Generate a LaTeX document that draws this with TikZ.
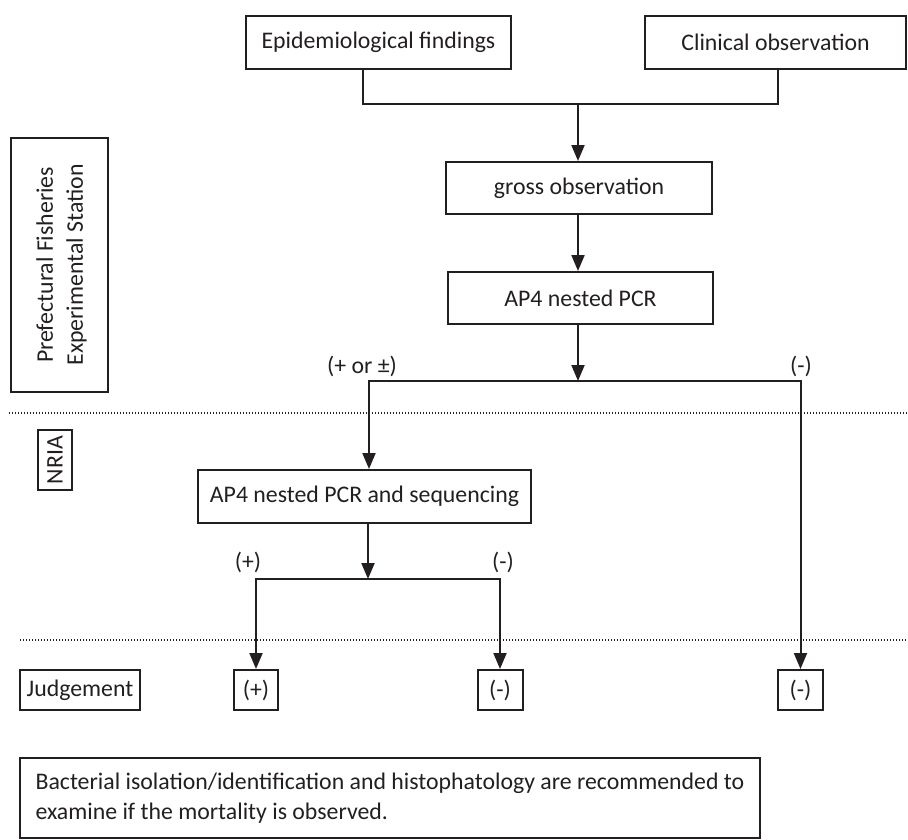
\documentclass[tikz,border=0pt]{standalone}
\usepackage{fontspec}
\setmainfont{Carlito}
\usetikzlibrary{arrows.meta}
\definecolor{ink}{RGB}{35,31,32}
\tikzset{
    box/.style={draw=ink, line width=2pt, inner sep=0pt, text=ink},
    arr/.style={draw=ink, line width=2pt, -{Triangle[length=16pt,width=13pt]}},
    link/.style={draw=ink, line width=2pt},
    sepline/.style={draw=ink, line width=1.4pt, dash pattern=on 1.4pt off 1.6pt},
    lbl/.style={text=ink, inner sep=0pt}
}
\begin{document}
\begin{tikzpicture}[x=1pt, y=-1pt, font=\fontsize{23.8}{30}\selectfont]
    \useasboundingbox (0,0) rectangle (908,839);

    % Separators
    \draw[sepline] (9,413) -- (908,413);
    \draw[sepline] (20,640) -- (908,640);

    % Side labels
    \node[box, rotate=90, minimum width=254pt, minimum height=97pt, align=center, text depth=0pt] (pref) at (59.5,265)
        {Prefectural Fisheries\\Experimental Station};
    \node[box, rotate=90, minimum width=60pt, minimum height=34pt] (nria) at (55,460) {NRIA};
    \node[box, minimum width=120pt, minimum height=40pt] (judge) at (80,690) {Judgement};

    % Steps
    \node[box, minimum width=265pt, minimum height=53pt] (epi) at (378.5,42.5) {Epidemiological findings};
    \node[box, minimum width=261pt, minimum height=53pt] (clin) at (775.5,42.5) {Clinical observation};
    \node[box, minimum width=266pt, minimum height=52pt] (gross) at (579,188) {gross observation};
    \node[box, minimum width=265pt, minimum height=52pt] (ap4) at (580.5,298) {AP4 nested PCR};
    \node[box, minimum width=333pt, minimum height=53pt] (seq) at (364.5,496.5) {AP4 nested PCR and sequencing};

    % Judgements
    \node[box, minimum width=44pt, minimum height=40pt] (jpos) at (256,690) {(+)};
    \node[box, minimum width=45pt, minimum height=40pt] (jneg) at (500,690) {(-)};
    \node[box, minimum width=45pt, minimum height=40pt] (jnegb) at (800.5,690) {(-)};

    % Note
    \node[box, minimum width=740pt, minimum height=80pt, align=left] (note) at (390,798)
        {Bacterial isolation/identification and histophatology are recommended to\\examine if the mortality is observed.};

    % Junctions
    \coordinate (mergeA) at (578,104);
    \coordinate (splitA) at (578,381);
    \coordinate (splitB) at (368,579);

    % Connectors
    \draw[link] ([xshift=-15.5pt]epi.south) |- (mergeA) -| ([xshift=2.5pt]clin.south);
    \draw[arr] (mergeA) -- (mergeA |- gross.north);
    \draw[arr] (gross.south -| mergeA) -- (ap4.north -| mergeA);
    \draw[arr] (ap4.south -| splitA) -- (splitA);
    \draw[arr] (splitA) -| ([xshift=4.5pt]seq.north);
    \draw[arr] (splitA) -| (jnegb.north);
    \draw[arr] (seq.south -| splitB) -- (splitB);
    \draw[arr] (splitB) -| (jpos.north);
    \draw[arr] (splitB) -| (jneg.north);

    % Branch labels
    \node[lbl] (lplus) at (362,366) {(+ or ±)};
    \node[lbl] (lminus) at (801,366) {(-)};
    \node[lbl] (splus) at (248,562) {(+)};
    \node[lbl] (sminus) at (503,562) {(-)};
\end{tikzpicture}
\end{document}
